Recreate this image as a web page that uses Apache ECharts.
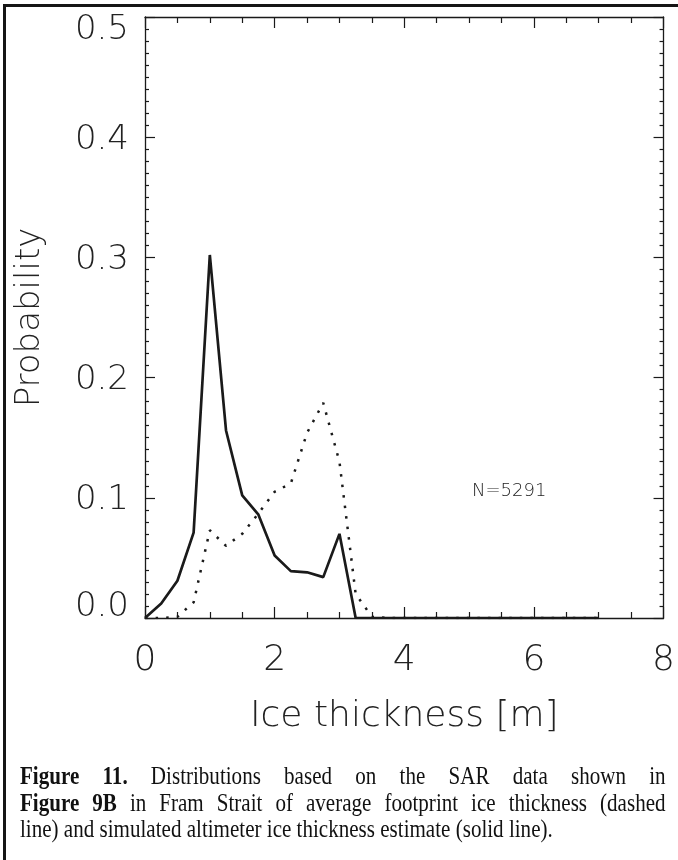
<!DOCTYPE html>
<html>
<head>
<meta charset="utf-8">
<script src="https://cdn.jsdelivr.net/npm/echarts@6/dist/echarts.min.js"></script>
<style>
  html, body { margin: 0; padding: 0; background: #fff; }
  #wrap { position: relative; width: 678px; height: 860px; overflow: hidden; background: #fff; }
  #chart { position: absolute; left: 0; top: 0; width: 678px; height: 860px; }
  #frame { position: absolute; left: 3px; top: 4px; width: 700px; height: 900px;
           border-left: 3px solid #151515; border-top: 3px solid #151515; pointer-events: none; }
  #caption { position: absolute; left: 20px; top: 763px; width: 797px;
             transform: scaleX(0.81); transform-origin: 0 0;
             font-family: "Liberation Serif", "Times New Roman", serif; font-size: 26px;
             line-height: 26.5px; color: #111; }
  #caption .j { text-align: justify; text-align-last: justify; white-space: nowrap; }
  #caption .l { text-align: left; white-space: nowrap; }
</style>
</head>
<body>
<div id="wrap">
  <div id="chart"></div>
  <div id="frame"></div>
  <div id="caption">
    <div class="j"><b>Figure 11.</b> Distributions based on the SAR data shown in</div>
    <div class="j"><b>Figure 9B</b> in Fram Strait of average footprint ice thickness (dashed</div>
    <div class="l">line) and simulated altimeter ice thickness estimate (solid line).</div>
  </div>
</div>
<script>
// ---- data ----
const thickness = [0, 0.25, 0.5, 0.75, 1.0, 1.25, 1.5, 1.75, 2.0, 2.25, 2.5, 2.75, 3.0, 3.25, 3.5,
                   3.75, 4.0, 4.25, 4.5, 4.75, 5.0, 5.25, 5.5, 5.75, 6.0, 6.25, 6.5, 6.75, 7.0];
const altimeterProb = [0, 0.012, 0.031, 0.071, 0.302, 0.156, 0.102, 0.086, 0.052, 0.039, 0.038, 0.034, 0.070, 0, 0,
                       0, 0, 0, 0, 0, 0, 0, 0, 0, 0, 0, 0, 0, 0];
const footprintProb = [0, 0, 0.001, 0.013, 0.073, 0.060, 0.070, 0.087, 0.105, 0.112, 0.154, 0.179, 0.130, 0.020, 0.001,
                       0, 0, 0, 0, 0, 0, 0, 0, 0, 0, 0, 0, 0, 0];
const yTicks = [0.0, 0.1, 0.2, 0.3, 0.4, 0.5];
const xTicks = [0, 2, 4, 6, 8];
const sampleLabel = 'N=5291';

const ink = '#1a1a1a';
const lightFont = { fontFamily: 'DejaVu Sans', fontWeight: 200, color: '#222' };

function pairs(xs, ys) { return xs.map((x, i) => [x, ys[i]]); }

const chart = echarts.init(document.getElementById('chart'), null, { renderer: 'canvas' });

function xAxisCfg(pos, showLabel) {
  return {
    type: 'value', position: pos, min: xTicks[0], max: xTicks[xTicks.length - 1], interval: 2,
    axisLine: { show: true, onZero: false, lineStyle: { color: ink, width: 1.3 } },
    axisTick: { show: true, inside: true, length: 11, lineStyle: { color: ink, width: 1.2 } },
    minorTick: { show: true, splitNumber: 4, length: 6, lineStyle: { color: ink, width: 1.2 } },
    splitLine: { show: false },
    axisLabel: { show: showLabel, margin: 25, fontSize: 36, ...lightFont },
    name: showLabel ? 'Ice thickness [m]' : '',
    nameLocation: 'middle', nameGap: 81,
    nameTextStyle: { fontSize: 36, ...lightFont }
  };
}
const yRich = {
  bot: { fontSize: 34, ...lightFont, padding: [0, 0, 22, 0] },
  top: { fontSize: 34, ...lightFont, padding: [26, 0, 0, 0] },
  mid: { fontSize: 34, ...lightFont, padding: [5, 0, 0, 0] }
};
function yAxisCfg(pos, showLabel) {
  return {
    type: 'value', position: pos, min: yTicks[0], max: yTicks[yTicks.length - 1], interval: 0.1,
    axisLine: { show: true, onZero: false, lineStyle: { color: ink, width: 1.3 } },
    axisTick: { show: true, inside: true, length: 10, lineStyle: { color: ink, width: 1.2 } },
    minorTick: { show: true, splitNumber: 10, length: 4, lineStyle: { color: ink, width: 1.2 } },
    splitLine: { show: false },
    axisLabel: { show: showLabel, margin: 16, fontSize: 34, ...lightFont, rich: yRich,
                 formatter: v => {
                   const t = v.toFixed(1);
                   if (Math.abs(v - yTicks[0]) < 1e-9) return '{bot|' + t + '}';
                   if (Math.abs(v - yTicks[yTicks.length - 1]) < 1e-9) return '{top|' + t + '}';
                   return '{mid|' + t + '}';
                 } },
    name: showLabel ? 'Probability' : '',
    nameLocation: 'middle', nameGap: 98, nameRotate: 90,
    nameTextStyle: { fontSize: 34, ...lightFont }
  };
}

chart.setOption({
  animation: false,
  backgroundColor: 'transparent',
  grid: { left: 145, right: 13, top: 17, bottom: 242, containLabel: false },
  xAxis: [xAxisCfg('bottom', true), xAxisCfg('top', false)],
  yAxis: [yAxisCfg('left', true), yAxisCfg('right', false)],
  series: [
    {
      name: 'Average footprint ice thickness', type: 'line', xAxisIndex: 0, yAxisIndex: 0,
      data: pairs(thickness, footprintProb), symbol: 'none', smooth: false,
      lineStyle: { color: ink, width: 2.5, type: [2.5, 8.1], cap: 'butt' }, z: 3
    },
    {
      name: 'Simulated altimeter estimate', type: 'line', xAxisIndex: 0, yAxisIndex: 0,
      data: pairs(thickness, altimeterProb), symbol: 'none', smooth: false,
      lineStyle: { color: ink, width: 2.7, type: 'solid' }, z: 4
    }
  ],
  graphic: [
    { type: 'text', left: 472, top: 482,
      style: { text: sampleLabel, fontSize: 18, fontFamily: 'DejaVu Sans', fontWeight: 200, fill: '#222' } }
  ]
});
</script>
</body>
</html>
